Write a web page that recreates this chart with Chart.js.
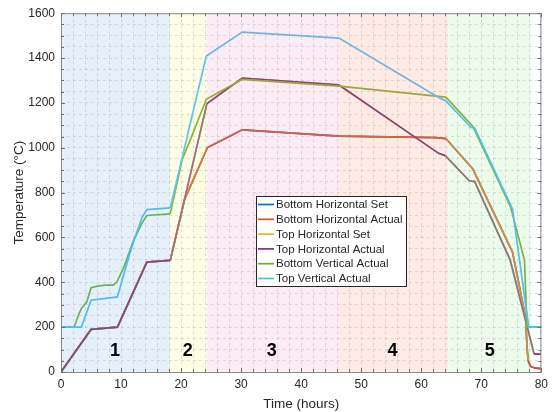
<!DOCTYPE html>
<html>
<head>
<meta charset="utf-8">
<script src="https://cdn.jsdelivr.net/npm/chart.js@4.4.1/dist/chart.umd.min.js"></script>
<style>
  html, body { margin: 0; padding: 0; background: #fff; }
  #wrap { width: 553px; height: 412px; }
</style>
</head>
<body>
<div id="wrap"><canvas id="chart-temps" width="553" height="412"></canvas></div>
<script>
// series, time (hours) and temperature (C)
const topHorizActualT = [0, 5, 9.4, 14.3, 18.2, 24.3, 30.2, 46.3, 62.9, 64.0, 68.0, 68.9, 74.8, 78.8, 80];
const topHorizActualV = [0, 190, 200, 490, 498, 1197, 1311, 1280, 975, 965, 853, 849, 500, 80, 80];

const topHorizSetT = [0, 5, 9.4, 14.3, 18.2, 24.3, 30.2, 46.3, 62.9, 64.0, 68.0, 68.9, 74.8, 78.8, 80];
const topHorizSetV = [0, 190, 200, 490, 498, 1197, 1311, 1280, 975, 965, 853, 849, 500, 80, 80];

const botHorizActualT = [0, 5, 9.4, 14.3, 18.2, 20.6, 24.4, 30.2, 46.3, 62.5, 64.1, 68.6, 75.2, 77.4, 77.6, 77.8, 78.2, 79, 80];
const botHorizActualV = [0, 190, 200, 490, 498, 771, 1001, 1080, 1052, 1045, 1041, 905, 535, 240, 120, 50, 25, 17, 15];

const botHorizSetT = [0, 5, 9.4, 14.3, 18.2, 20.6, 24.4, 30.2, 46.3, 62.5, 64.1, 68.6, 75.2, 77.4, 77.6, 77.8, 78.2, 79, 80];
const botHorizSetV = [0, 190, 200, 490, 498, 771, 1001, 1080, 1052, 1045, 1041, 905, 535, 240, 120, 50, 25, 17, 15];

const botVertActualT = [0, 2.2, 2.9, 3.4, 4.3, 5.0, 5.9, 7.3, 8.7, 9.3, 10.5, 12, 13.5, 14.3, 18.2, 20.2, 21.7, 24.2, 30.2, 46.3, 64.1, 68.6, 74.9, 77.2, 77.6, 80];
const botVertActualV = [200, 201, 253, 283, 313, 376, 382, 387, 387, 401, 470, 580, 665, 698, 705, 949, 1046, 1216, 1305, 1275, 1226, 1095, 735, 498, 201, 201];

const topVertActualT = [0, 3.4, 5.0, 9.4, 10.5, 12, 13.5, 14.3, 18.2, 24.2, 30.2, 46.3, 62.9, 64.1, 68.3, 68.9, 75.2, 77.9, 80];
const topVertActualV = [200, 200, 320, 335, 440, 575, 690, 724, 732, 1409, 1516, 1489, 1224, 1209, 1090, 1088, 727, 201, 201];

const seriesLabels = ["Bottom Horizontal Set", "Bottom Horizontal Actual", "Top Horizontal Set",
    "Top Horizontal Actual", "Bottom Vertical Actual", "Top Vertical Actual"];

// process stages shaded behind the lines
const stageNames = ["1", "2", "3", "4", "5"];
const stageStart = [0, 18.2, 24.3, 46.3, 64.5];
const stageEnd = [18.2, 24.3, 46.3, 64.5, 78.2];
const stageLabelX = [9.0, 21.1, 35.1, 55.2, 71.4];
const stageLabelY = 93;

const stageFill = ["#e6f0fa", "#fefde6", "#fbecf5", "#feece4", "#ecfbec"];

const font = "'Liberation Sans', Arial, sans-serif";

function pts(t, v) {
    return t.map((x, i) => ({ x: x, y: v[i] }));
}

function stageOf(x) {
    for (let i = stageStart.length - 1; i >= 0; i--) {
        if (x >= stageStart[i]) return i;
    }
    return 0;
}

// lines look a bit different in each stage because of overlaps
function stageColors(cols, tail, tailFrom) {
    return (ctx) => {
        const mid = (ctx.p0.parsed.x + ctx.p1.parsed.x) / 2;
        if (tail && mid >= tailFrom) return tail;
        return cols[stageOf(mid)];
    };
}

const purpleCols = ["#7d4a97", "#9a6e8c", "#8c3f8e", "#8e3f8a", "#807a8e"];
const orangeCols = ["#e0602a", "#ea7a22", "#e05a48", "#e8622a", "#e08a3c"];
const greenCols = ["#6db25a", "#88b830", "#98a83a", "#98a83a", "#7cb342"];
const lightBlueCols = ["#4cbdf0", "#5cc6e6", "#74b2e6", "#74b2e6", "#52c0e8"];

const datasets = [
    { label: seriesLabels[0], data: pts(botHorizSetT, botHorizSetV), borderColor: "#0072BD", order: 6 },
    { label: seriesLabels[1], data: pts(botHorizActualT, botHorizActualV), borderColor: "#D95319", order: 5,
      segment: { borderColor: stageColors(orangeCols, "#e8502a", 77.9) } },
    { label: seriesLabels[2], data: pts(topHorizSetT, topHorizSetV), borderColor: "#EDB120", order: 4 },
    { label: seriesLabels[3], data: pts(topHorizActualT, topHorizActualV), borderColor: "#7E2F8E", order: 3,
      segment: { borderColor: stageColors(purpleCols, "#8b2c9c", 78.8) } },
    { label: seriesLabels[4], data: pts(botVertActualT, botVertActualV), borderColor: "#77AC30", order: 2,
      segment: { borderColor: stageColors(greenCols) } },
    { label: seriesLabels[5], data: pts(topVertActualT, topVertActualV), borderColor: "#4DBEEE", order: 1,
      segment: { borderColor: stageColors(lightBlueCols) } },
];
datasets.forEach(d => {
    d.borderWidth = 1.7;
    d.pointRadius = 0;
    d.tension = 0;
    d.fill = false;
});

const stagePlugin = {
    id: "stages",
    beforeDraw(chart) {
        const { ctx, chartArea: a, scales: { x } } = chart;
        ctx.save();
        ctx.fillStyle = "#fff";
        ctx.fillRect(0, 0, chart.width, chart.height);
        for (let i = 0; i < stageStart.length; i++) {
            const x1 = x.getPixelForValue(stageStart[i]);
            const x2 = x.getPixelForValue(stageEnd[i]);
            ctx.fillStyle = stageFill[i];
            ctx.fillRect(x1, a.top, x2 - x1, a.bottom - a.top);
        }
        ctx.restore();
    },
    afterDraw(chart) {
        const { ctx, chartArea: a, scales: { x, y } } = chart;
        ctx.save();

        // stage numbers
        ctx.fillStyle = "#000";
        ctx.font = "bold 18px " + font;
        ctx.textAlign = "center";
        ctx.textBaseline = "middle";
        for (let i = 0; i < stageNames.length; i++) {
            ctx.fillText(stageNames[i], x.getPixelForValue(stageLabelX[i]), y.getPixelForValue(stageLabelY));
        }

        // box and inward ticks
        ctx.strokeStyle = "#8a8a8a";
        ctx.lineWidth = 1;
        ctx.strokeRect(a.left + 0.5, a.top + 0.5, a.right - a.left - 1, a.bottom - a.top);
        ctx.strokeStyle = "#6f6f6f";
        ctx.beginPath();
        for (let v = 0; v <= 80; v += 2) {
            const px = Math.round(x.getPixelForValue(v)) + 0.5;
            const len = v % 10 === 0 ? 4 : 3;
            ctx.moveTo(px, a.bottom); ctx.lineTo(px, a.bottom - len);
            ctx.moveTo(px, a.top); ctx.lineTo(px, a.top + len);
        }
        for (let v = 0; v <= 1600; v += 50) {
            const py = Math.round(y.getPixelForValue(v)) + 0.5;
            const len = v % 200 === 0 ? 4 : 3;
            ctx.moveTo(a.left, py); ctx.lineTo(a.left + len, py);
            ctx.moveTo(a.right, py); ctx.lineTo(a.right - len, py);
        }
        ctx.stroke();

        // legend inside the plot
        const lx = 256, ly = 196, lw = 150, lh = 90, row = 14.8;
        ctx.fillStyle = "#fff";
        ctx.fillRect(lx, ly, lw, lh);
        ctx.strokeStyle = "#262626";
        ctx.lineWidth = 1;
        ctx.strokeRect(lx + 0.5, ly + 0.5, lw, lh);
        ctx.font = "11.5px " + font;
        ctx.textAlign = "left";
        ctx.textBaseline = "middle";
        chart.data.datasets.forEach((d, i) => {
            const ry = ly + 8.5 + i * row;
            ctx.strokeStyle = d.borderColor;
            ctx.lineWidth = 1.7;
            ctx.beginPath();
            ctx.moveTo(lx + 2, ry);
            ctx.lineTo(lx + 18, ry);
            ctx.stroke();
            ctx.fillStyle = "#262626";
            ctx.fillText(d.label, lx + 20, ry + 0.5);
        });
        ctx.restore();
    },
};

const ctx = document.getElementById("chart-temps").getContext("2d");

new Chart(ctx, {
    type: "line",
    data: { datasets: datasets },
    plugins: [stagePlugin],
    options: {
        responsive: false,
        animation: false,
        devicePixelRatio: 1,
        layout: { padding: { top: 12, right: 10, left: 0, bottom: 0 } },
        plugins: {
            legend: { display: false },
            tooltip: { enabled: false },
        },
        scales: {
            x: {
                type: "linear",
                min: 0,
                max: 80,
                afterFit: (s) => { s.height = 40; },
                border: { display: false, dash: [3, 3] },
                grid: { color: "rgba(120,120,120,0.22)", drawTicks: false },
                ticks: {
                    stepSize: 2,
                    autoSkip: false,
                    maxRotation: 0,
                    padding: 5,
                    color: "#262626",
                    font: { size: 12, family: font },
                    callback: (v) => (v % 10 === 0 ? v : ""),
                },
                title: {
                    display: true,
                    text: "Time (hours)",
                    color: "#262626",
                    font: { size: 13.5, family: font },
                    padding: { top: 1, bottom: 0 },
                },
            },
            y: {
                type: "linear",
                min: 0,
                max: 1600,
                afterFit: (s) => { s.width = 61; },
                border: { display: false, dash: [3, 3] },
                grid: { color: "rgba(120,120,120,0.22)", drawTicks: false },
                ticks: {
                    stepSize: 50,
                    autoSkip: false,
                    padding: 6,
                    color: "#262626",
                    font: { size: 12, family: font },
                    callback: (v) => (v % 200 === 0 ? v : ""),
                },
                title: {
                    display: true,
                    text: "Temperature (°C)",
                    color: "#262626",
                    font: { size: 13.5, family: font },
                    padding: { top: 11, bottom: 0 },
                },
            },
        },
    },
});
</script>
</body>
</html>
